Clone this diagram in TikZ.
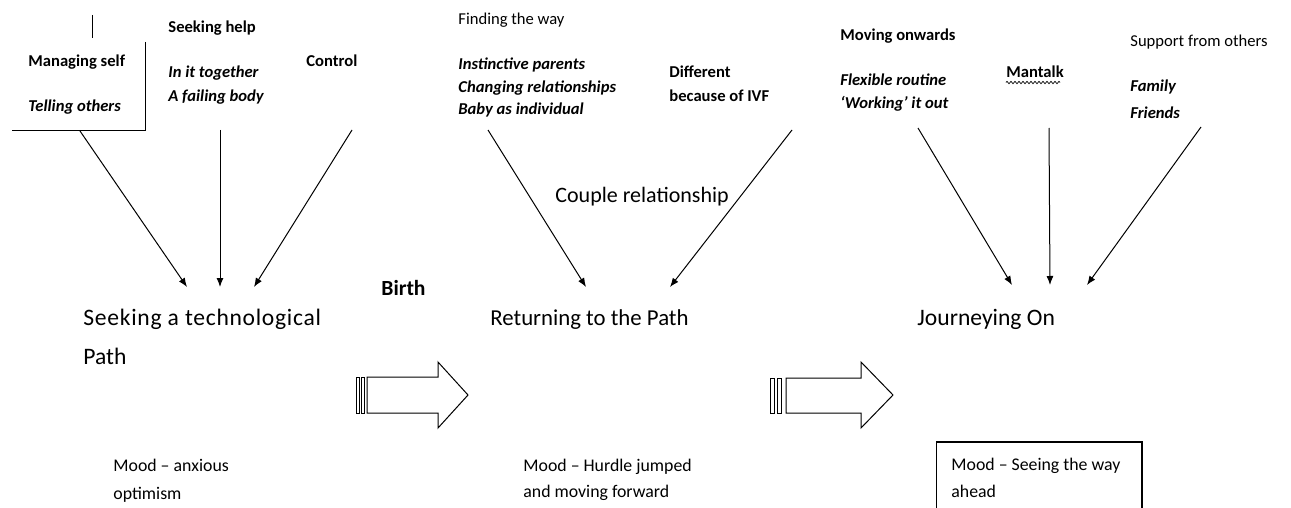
\documentclass[tikz,border=0pt]{standalone}
\usepackage{fontspec}
\setmainfont{Carlito}
\usetikzlibrary{arrows.meta,decorations.pathmorphing}
\begin{document}
\begin{tikzpicture}[x=0.5pt,y=-0.5pt,
  lbl/.style={anchor=base west,inner sep=0pt,font=\fontsize{8.3}{10}\selectfont\bfseries},
  lblit/.style={anchor=base west,inner sep=0pt,font=\fontsize{8.3}{10}\selectfont\bfseries\itshape},
  lblrm/.style={anchor=base west,inner sep=0pt,font=\fontsize{8.3}{10}\selectfont},
  stage/.style={anchor=base west,inner sep=0pt,font=\fontsize{11.8}{14}\selectfont},
  mood/.style={anchor=base west,inner sep=0pt,font=\fontsize{8.9}{10}\selectfont},
  feed/.style={line width=0.5pt,-{Latex[length=4.5pt,width=3.5pt]}},
  blk/.style={draw,line width=0.5pt,fill=white}]
\useasboundingbox (0,0) rectangle (1291,508);

% ---------- first theme: seeking a technological path ----------
\draw[line width=0.5pt] (92,15) -- (92,38);
\draw[line width=0.5pt] (145,42) -- (145,131) -- (12,131);
\node[lbl]   (ms)  at (28,67)  {Managing self};
\node[lblit] (to)  at (28,112) {Telling others};
\node[lbl]   (sh)  at (168,33) {Seeking help};
\node[lblit] (it)  at (168,78) {In it together};
\node[lblit] (fb)  at (168,102) {A failing body};
\node[lbl]   (ct)  at (306,67) {Control};

\node[stage,font=\fontsize{11.8}{14}\selectfont\addfontfeature{LetterSpace=3}] (st1) at (83,325) {Seeking a technological};
\node[stage] (st1b) at (83,364) {Path};

\coordinate (a1s) at (80,131);  \coordinate (a1e) at (187,287);
\coordinate (a2s) at (220,130); \coordinate (a2e) at (220,287);
\coordinate (a3s) at (352,130); \coordinate (a3e) at (254,287);
\draw[feed] (a1s) -- (a1e);
\draw[feed] (a2s) -- (a2e);
\draw[feed] (a3s) -- (a3e);

\node[font=\fontsize{10.8}{12}\selectfont\bfseries,anchor=base west,inner sep=0pt] (birth) at (381,295) {Birth};

% ---------- second theme: returning to the path ----------
\node[lblrm] (fw)  at (458,25)  {Finding the way};
\node[lblit] (ip)  at (458,70)  {Instinctive parents};
\node[lblit] (cr)  at (458,93)  {Changing relationships};
\node[lblit] (bi)  at (458,115) {Baby as individual};
\node[lbl]   (df)  at (669,78)  {Different};
\node[lbl]   (bf)  at (669,102) {because of IVF};
\node[anchor=base west,inner sep=0pt,font=\fontsize{11}{13}\selectfont] (cp) at (555,202) {Couple relationship};

\node[stage,font=\fontsize{11.4}{14}\selectfont] (st2) at (490,325) {Returning to the Path};

\coordinate (b1s) at (488,130); \coordinate (b1e) at (586,287);
\coordinate (b2s) at (792,130); \coordinate (b2e) at (670,287);
\draw[feed] (b1s) -- (b1e);
\draw[feed] (b2s) -- (b2e);

% ---------- third theme: journeying on ----------
\node[lbl]   (mo)  at (840,41)  {Moving onwards};
\node[lblit] (fr)  at (840,86)  {Flexible routine};
\node[lblit] (wo)  at (840,109) {`Working' it out};
\node[lbl]   (mt)  at (1006,78) {Mantalk};
\draw[line width=0.35pt,decorate,decoration={zigzag,amplitude=0.6pt,segment length=2pt}]
  (mt.south west) ++(0,4) -- ++(54,0);
\node[lblrm] (sf)  at (1130,47) {Support from others};
\node[lblit] (fa)  at (1130,92) {Family};
\node[lblit] (fri) at (1130,119) {Friends};

\node[stage] (st3) at (917,325) {Journeying On};

\coordinate (c1s) at (918,128);  \coordinate (c1e) at (1012,285);
\coordinate (c2s) at (1049,128); \coordinate (c2e) at (1050,285);
\coordinate (c3s) at (1201,127); \coordinate (c3e) at (1087,285);
\draw[feed] (c1s) -- (c1e);
\draw[feed] (c2s) -- (c2e);
\draw[feed] (c3s) -- (c3e);

% ---------- striped block arrows between the stages ----------
\draw[blk] (356,377) rectangle (359,413);
\draw[blk] (361,377) rectangle (364,413);
\draw[blk] (367,377) -- (438,377) -- (438,362) -- (468,395) -- (438,428) -- (438,413) -- (367,413) -- cycle;

\draw[blk] (770,378) rectangle (774,413);
\draw[blk] (777,378) rectangle (781,413);
\draw[blk] (786,378) -- (861,378) -- (861,362) -- (893,395) -- (861,428) -- (861,413) -- (786,413) -- cycle;

% ---------- moods ----------
\node[mood] (m1a) at (113,471) {Mood – anxious};
\node[mood] (m1b) at (113,499) {optimism};
\node[mood] (m2a) at (523,471) {Mood – Hurdle jumped};
\node[mood] (m2b) at (523,497) {and moving forward};
\draw[line width=0.5pt] (936,515) -- (936,442) -- (1142,442) -- (1142,515);
\draw[line width=1.1pt] (936,442) -- (1142,442) -- (1142,515);
\node[mood] (m3a) at (951,470) {Mood – Seeing the way};
\node[mood] (m3b) at (951,497) {ahead};
\end{tikzpicture}
\end{document}
